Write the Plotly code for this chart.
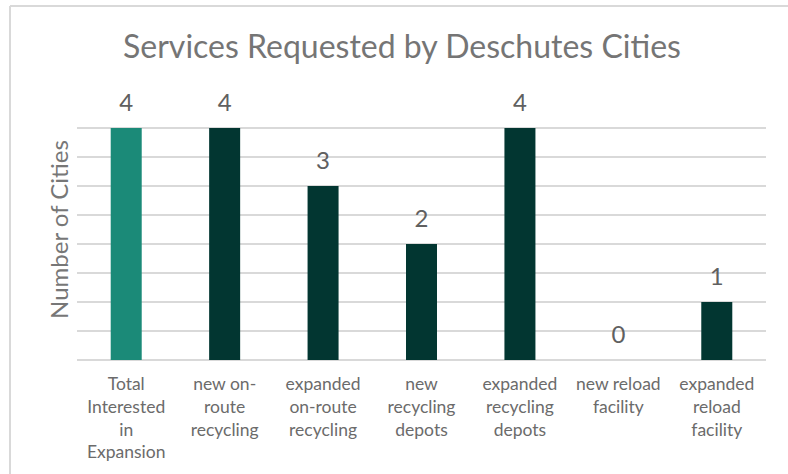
import plotly.graph_objects as go

categories = [
    "Total<br>Interested<br>in<br>Expansion",
    "new on-<br>route<br>recycling",
    "expanded<br>on-route<br>recycling",
    "new<br>recycling<br>depots",
    "expanded<br>recycling<br>depots",
    "new reload<br>facility",
    "expanded<br>reload<br>facility",
]
values = [4, 4, 3, 2, 4, 0, 1]
bar_colors = ["#1b8a78", "#023631", "#023631", "#023631", "#023631", "#023631", "#023631"]

W, H = 788, 474
L, R, T, B = 77, 22, 99, 114
pw, ph = W - L - R, H - T - B

fig = go.Figure(go.Bar(
    x=categories, y=values,
    marker=dict(color=bar_colors, line=dict(width=0)),
    width=0.315, hoverinfo="skip",
))
# value labels above bars
fig.add_trace(go.Scatter(
    x=categories, y=values, mode="markers+text",
    marker=dict(size=16, color="rgba(0,0,0,0)"),
    text=[str(v) for v in values], textposition="top center",
    textfont=dict(family="Lato", size=24, color="#606060"),
    cliponaxis=False, hoverinfo="skip",
))

def px_to_paper_x(px):
    return (px - L) / pw

def px_to_paper_y(py):
    return (H - B - py) / ph

# chart frame (left and top edges visible)
fig.add_shape(type="line", xref="paper", yref="paper",
              x0=px_to_paper_x(10), x1=px_to_paper_x(10),
              y0=px_to_paper_y(6), y1=px_to_paper_y(480),
              line=dict(color="#d9d9d9", width=2))
fig.add_shape(type="line", xref="paper", yref="paper",
              x0=px_to_paper_x(10), x1=px_to_paper_x(800),
              y0=px_to_paper_y(6), y1=px_to_paper_y(6),
              line=dict(color="#d9d9d9", width=2))

fig.update_layout(
    width=W, height=H,
    margin=dict(l=L, r=R, t=T, b=B, autoexpand=False),
    paper_bgcolor="white", plot_bgcolor="white",
    font=dict(family="Lato", color="#6b6b6b"),
    title=dict(text="Services Requested by Deschutes Cities",
               x=402 / W, xanchor="center", y=1 - 47 / H, yanchor="middle",
               font=dict(family="Lato", size=32, color="#757575")),
    showlegend=False,
    bargap=0.685,
)
fig.update_xaxes(
    showline=False, showgrid=False, zeroline=False,
    ticks="outside", ticklen=8, tickcolor="rgba(0,0,0,0)",
    tickfont=dict(family="Lato", size=17.5, color="#6b6b6b"),
    tickangle=0,
)
fig.update_yaxes(
    range=[0, 4.5], dtick=0.5, showticklabels=False,
    showgrid=True, gridcolor="#d9d9d9", gridwidth=1.5,
    zeroline=True, zerolinecolor="#d9d9d9", zerolinewidth=1.5,
    title=dict(text="Number of Cities", standoff=0,
               font=dict(family="Lato", size=24, color="#777777")),
)
fig.write_html("out.html", config={"displayModeBar": False},
               post_script="document.body.style.margin='0px';document.body.style.overflow='hidden';")
